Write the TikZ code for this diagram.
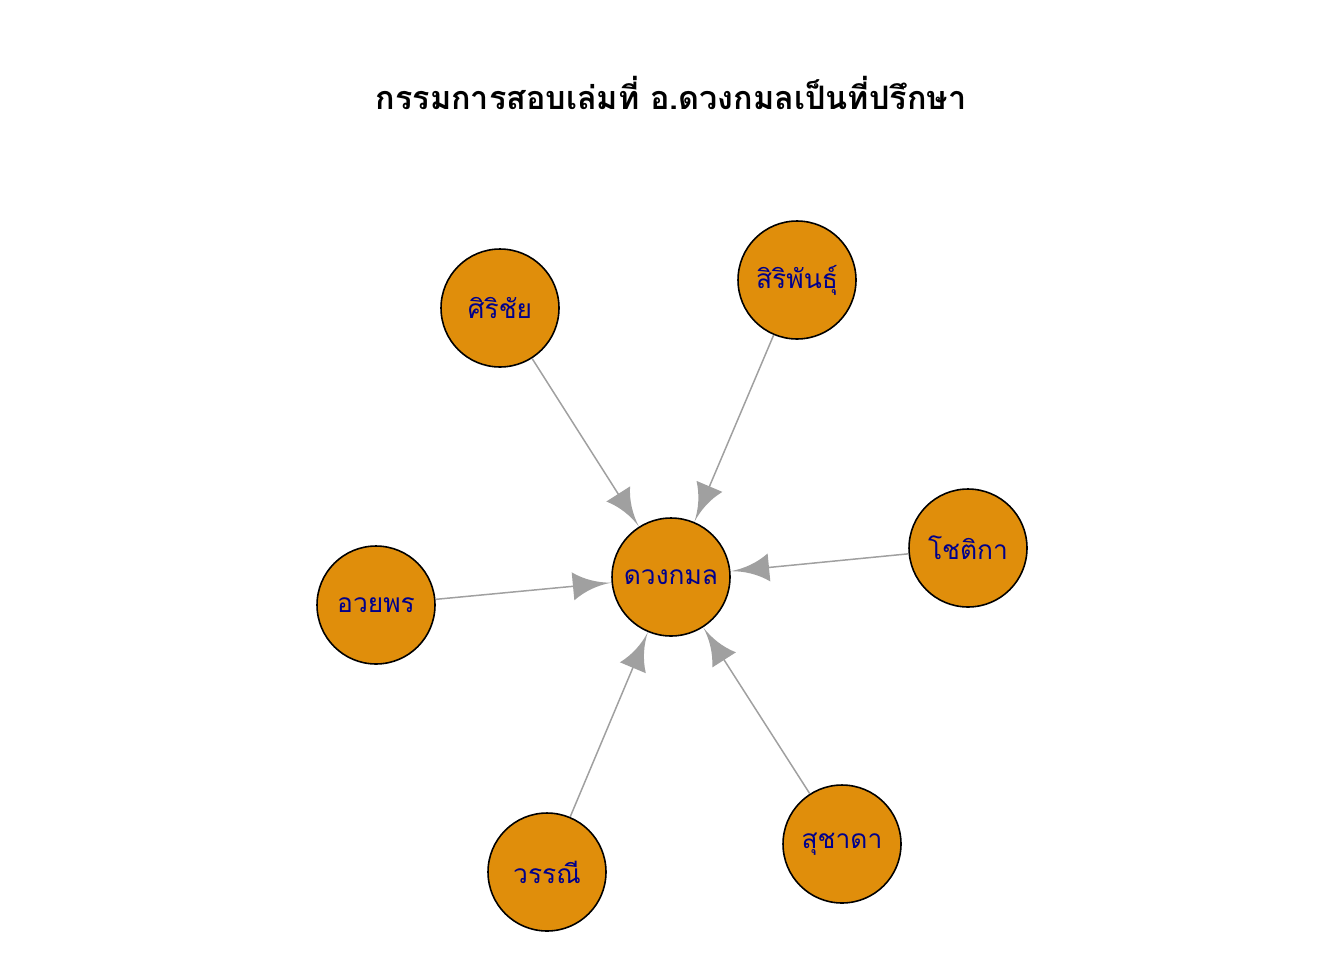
\documentclass[tikz,border=0pt]{standalone}
\usepackage{fontspec}
\newfontfamily\thaifont[Script=Thai]{Loma}
\usetikzlibrary{arrows.meta}
\definecolor{vfill}{HTML}{E08E0B}
\definecolor{vlabel}{HTML}{00008B}
\definecolor{egray}{HTML}{A0A0A0}
% flared arrow head
\pgfdeclarearrow{
  name = Flare,
  parameters = {\the\pgfarrowlength,\the\pgfarrowwidth},
  setup code = {
    \pgfarrowssettipend{0pt}
    \pgfarrowssetlineend{-0.5\pgfarrowlength}
    \pgfarrowssetbackend{-\pgfarrowlength}
    \pgfarrowssavethe\pgfarrowlength
    \pgfarrowssavethe\pgfarrowwidth
  },
  drawing code = {
    \pgfpathmoveto{\pgfpointorigin}
    \pgfpathcurveto{\pgfqpoint{-.35\pgfarrowlength}{.04\pgfarrowwidth}}{\pgfqpoint{-.7\pgfarrowlength}{.2\pgfarrowwidth}}{\pgfqpoint{-\pgfarrowlength}{.5\pgfarrowwidth}}
    \pgfpathlineto{\pgfqpoint{-\pgfarrowlength}{-.5\pgfarrowwidth}}
    \pgfpathcurveto{\pgfqpoint{-.7\pgfarrowlength}{-.2\pgfarrowwidth}}{\pgfqpoint{-.35\pgfarrowlength}{-.04\pgfarrowwidth}}{\pgfpointorigin}
    \pgfpathclose
    \pgfusepathqfill
  },
  defaults = {length = 21pt, width = 15pt}
}
\tikzset{
  person/.style = {circle, draw = black, line width = 0.9pt, fill = vfill,
    minimum size = 2.36cm, inner sep = 0pt, text = vlabel, font = \thaifont\fontsize{15}{18}\selectfont},
  advise/.style = {draw = egray, line width = 0.85pt, -{Flare[length = 22pt, width = 16pt]}}
}

\begin{document}
\begin{tikzpicture}[x=0.02cm,y=-0.02cm]
            \useasboundingbox (0,0) rectangle (1344,960);
            \node [font = \thaifont\bfseries\fontsize{18.4}{22}\selectfont] (title) at (671,93) {กรรมการสอบเล่มที่ อ.ดวงกมลเป็นที่ปรึกษา};
            \node [person] (duangkamon) at (671,577) {ดวงกมล};
            \node [person] (sirichai) at (500,308) {ศิริชัย};
            \node [person] (siriphan) at (797,280) {สิริพันธุ์};
            \node [person] (chotika) at (968,548) {โชติกา};
            \node [person] (ouayporn) at (376,605) {อวยพร};
            \node [person] (wannee) at (547,872) {วรรณี};
            \node [person] (suchada) at (842,844) {สุชาดา};
            \foreach \who in {sirichai,siriphan,chotika,ouayporn,wannee,suchada}
                \draw [advise] (\who) -- (duangkamon);
        \end{tikzpicture}
\end{document}
